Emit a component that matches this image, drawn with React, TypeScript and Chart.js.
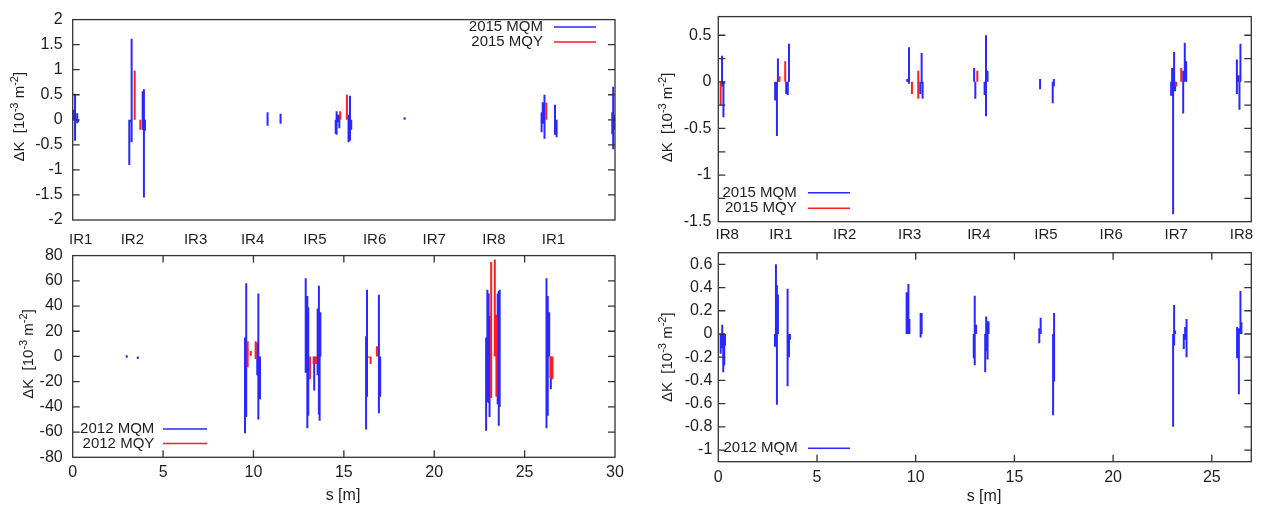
import React, { useEffect, useRef } from 'react';
import { Chart, registerables } from 'chart.js';

Chart.register(...registerables);

const FONT = '"Liberation Sans", Arial, Helvetica, sans-serif';
const BLUE = 'rgb(40,40,255)';
const RED = 'rgb(255,30,30)';
const INK = '#1e1e1e';
const FRAME = '#333333';

// ---------- top-left panel (2015) ----------
const TL_IR_POS = [0.44, 3.3, 6.8, 9.95, 13.4, 16.7, 20.0, 23.3, 26.6];
const TL_IR_LABELS = ['IR1', 'IR2', 'IR3', 'IR4', 'IR5', 'IR6', 'IR7', 'IR8', 'IR1'];
const TL_Y_TICKS = [-2, -1.5, -1, -0.5, 0, 0.5, 1, 1.5, 2];
const TL_MQM_S = [0.02, 0.13, 0.25, 0.3, 3.13, 3.2, 3.26, 3.87, 3.94, 4.0, 10.78, 11.5, 14.55, 14.6, 14.68, 14.75, 15.26, 15.34, 15.41, 18.36, 25.94, 26.0, 26.1, 26.68, 26.77, 29.85, 29.9, 29.95];
const TL_MQM_LO = [0, -0.42, -0.07, -0.05, -0.9, -0.05, -0.45, -0.2, -1.55, -0.22, -0.12, -0.08, -0.28, -0.3, -0.05, -0.17, -0.45, -0.42, -0.2, 0, -0.25, -0.08, -0.38, -0.3, -0.35, -0.29, -0.59, -0.2];
const TL_MQM_HI = [0.2, 0.52, 0.13, 0, 0, 0, 1.62, 0.57, 0.61, 0, 0.15, 0.12, 0, 0.17, 0.1, 0.1, 0.1, 0.48, 0, 0.05, 0.15, 0.35, 0.5, 0.3, 0, 0.15, 0.66, 0.1];
const TL_MQY_S = [3.43, 3.74, 14.8, 15.17, 26.2];
const TL_MQY_LO = [0, -0.2, 0, 0, 0];
const TL_MQY_HI = [0.98, 0, 0.17, 0.5, 0.34];

// ---------- bottom-left panel (2012) ----------
const BL_X_TICKS = [0, 5, 10, 15, 20, 25, 30];
const BL_Y_TICKS = [-80, -60, -40, -20, 0, 20, 40, 60, 80];
const BL_MQM_S = [0.15, 0.3, 2.99, 3.6, 9.53, 9.6, 10.21, 10.27, 10.36, 12.89, 12.98, 13.03, 13.36, 13.55, 13.62, 13.66, 13.7, 16.23, 16.28, 16.94, 17.01, 22.87, 22.94, 23.01, 23.06, 23.51, 23.57, 23.62, 26.21, 26.28, 26.36, 26.45];
const BL_MQM_LO = [-0.5, -0.3, -1, -2, -61, -48, -15, -50, -34, -13, -57, -47, -27, -15, -46, -51, 0, -58, -32, -45, -32, -59, -36, -37, -48, -38, -55, -40, -57, -47, 0, -26];
const BL_MQM_HI = [0.5, 0.3, 1, 0, 15, 58, 11, 50, 0, 62, 48, 39, 0, 38, 56, 35, 35, 16, 53, 49, 0, 15, 53, 50, 32, 50, 52, 53, 62, 48, 35, 0];
const BL_MQY_S = [9.68, 9.85, 10.12, 13.13, 13.33, 13.46, 16.39, 16.48, 16.83, 23.15, 23.35, 23.44, 26.43, 26.54];
const BL_MQY_LO = [-8.5, 0.5, -2, -18, -6, -6, -1, -6, 0, -33, 0, -32, -17, -18];
const BL_MQY_HI = [12, 4.4, 12, 0, 0, 0, 0, 0, 8, 75, 77, 33, 0, 0];

// ---------- top-right panel (2015) ----------
const TR_IR_POS = [0.45, 3.17, 6.4, 9.7, 13.2, 16.6, 19.9, 23.2, 26.5];
const TR_IR_LABELS = ['IR8', 'IR1', 'IR2', 'IR3', 'IR4', 'IR5', 'IR6', 'IR7', 'IR8'];
const TR_Y_TICKS = [-1.5, -1.25, -1, -0.75, -0.5, -0.25, 0, 0.25, 0.5];
const TR_MQM_S = [0.19, 0.26, 0.3, 2.88, 2.97, 3.02, 3.44, 3.52, 3.58, 9.57, 9.66, 10.23, 10.3, 10.35, 12.96, 13.02, 13.49, 13.56, 13.64, 16.3, 16.94, 17.0, 22.94, 22.99, 23.04, 23.09, 23.14, 23.55, 23.63, 23.7, 26.27, 26.34, 26.4, 26.45];
const TR_MQM_LO = [-0.05, -0.38, -0.02, -0.2, -0.58, 0, -0.13, -0.14, 0, 0, -0.02, -0.13, -0.02, -0.18, 0, -0.18, -0.14, -0.37, 0, -0.08, -0.23, -0.05, -0.15, 0, -1.42, -0.05, -0.1, -0.34, 0, 0, -0.13, 0, -0.3, 0];
const TR_MQM_HI = [0.28, 0, 0, 0, 0, 0.25, 0, 0, 0.41, 0.03, 0.37, 0, 0.31, 0, 0.15, 0, 0, 0.5, 0.12, 0.03, 0, 0.03, 0, 0.15, 0.13, 0.32, 0, 0.12, 0.42, 0.22, 0.24, 0.07, 0, 0.41];
const TR_MQY_S = [0.12, 3.1, 3.39, 9.81, 10.13, 13.12, 23.19, 23.45];
const TR_MQY_LO = [-0.25, 0, 0, -0.13, -0.18, 0, -0.05, 0];
const TR_MQY_HI = [0, 0.06, 0.22, 0, 0.12, 0.12, 0, 0.15];

// ---------- bottom-right panel (2012) ----------
const BR_X_TICKS = [0, 5, 10, 15, 20, 25];
const BR_Y_TICKS = [-1, -0.8, -0.6, -0.4, -0.2, 0, 0.2, 0.4, 0.6];
const BR_MQM_S = [0.12, 0.2, 0.25, 0.3, 0.34, 2.87, 2.92, 2.97, 3.02, 3.51, 3.58, 3.63, 9.54, 9.59, 9.63, 9.68, 10.25, 10.3, 12.94, 12.99, 13.06, 13.52, 13.57, 13.64, 13.69, 16.26, 16.33, 16.96, 17.01, 23.04, 23.09, 23.14, 23.58, 23.65, 23.72, 26.28, 26.37, 26.45, 26.5];
const BR_MQM_LO = [-0.17, -0.12, -0.33, -0.27, -0.1, -0.11, -0.05, -0.61, 0, -0.45, -0.2, -0.05, 0, 0, 0, 0, -0.03, 0, -0.21, -0.27, 0, -0.33, -0.15, -0.22, 0, -0.08, 0, -0.7, -0.41, -0.8, -0.1, 0, -0.13, -0.05, -0.2, -0.21, -0.52, 0, 0];
const BR_MQM_HI = [0, 0.08, 0, 0, 0, 0, 0.6, 0.42, 0.34, 0.39, 0, 0, 0.36, 0.1, 0.43, 0.13, 0.18, 0.18, 0, 0.33, 0.08, 0, 0.15, 0.11, 0.11, 0.05, 0.14, 0, 0.18, 0, 0.25, 0.03, 0, 0.06, 0.13, 0.06, 0.05, 0.37, 0.1];

type Pt = { x: number; y: number | null };
function segs(s: number[], lo: number[], hi: number[]): Pt[] {
  const out: Pt[] = [];
  s.forEach((x, i) => {
    out.push({ x, y: lo[i] }, { x, y: hi[i] }, { x, y: null });
  });
  return out;
}

function fmt(v: number): string {
  return String(parseFloat(Number(v).toFixed(2)));
}

interface LegendItem { text: string; color: string; tx: number; x0: number; x1: number; y: number }
interface PanelCfg {
  box: { left: number; top: number; width: number; height: number };
  area: { left: number; top: number; right: number; bottom: number };
  xMin: number; xMax: number; yMin: number; yMax: number;
  xTicks: number[]; xLabels: string[] | null; xFont: number; xPad: number; xMarks: boolean;
  yTicks: number[]; yLabel: (v: number) => string; yPad: number;
  series: { data: Pt[]; color: string }[];
  legend: LegendItem[];
  yTitle: { x: number; y: number };
  xTitle: { x: number; y: number } | null;
}

function drawDecor(chart: any, c: PanelCfg) {
  const ctx: CanvasRenderingContext2D = chart.ctx;
  const a = chart.chartArea;
  const ox = c.box.left;
  const oy = c.box.top;
  ctx.save();
  ctx.strokeStyle = FRAME;
  ctx.lineWidth = 1.3;
  ctx.strokeRect(a.left, a.top, a.right - a.left, a.bottom - a.top);
  const L = 7;
  ctx.beginPath();
  const ys = chart.scales.y;
  ys.ticks.forEach((t: any) => {
    const p = ys.getPixelForValue(t.value);
    if (Math.abs(p - a.top) < 1 || Math.abs(p - a.bottom) < 1) return;
    ctx.moveTo(a.left, p); ctx.lineTo(a.left + L, p);
    ctx.moveTo(a.right, p); ctx.lineTo(a.right - L, p);
  });
  if (c.xMarks) {
    const xs = chart.scales.x;
    xs.ticks.forEach((t: any) => {
      const p = xs.getPixelForValue(t.value);
      if (Math.abs(p - a.left) < 1 || Math.abs(p - a.right) < 1) return;
      ctx.moveTo(p, a.bottom); ctx.lineTo(p, a.bottom - L);
      ctx.moveTo(p, a.top); ctx.lineTo(p, a.top + L);
    });
  }
  ctx.stroke();
  ctx.font = `15px ${FONT}`;
  ctx.textAlign = 'right';
  ctx.textBaseline = 'middle';
  c.legend.forEach((l) => {
    ctx.fillStyle = INK;
    ctx.fillText(l.text, l.tx - ox, l.y - oy);
    ctx.strokeStyle = l.color;
    ctx.lineWidth = 1.5;
    ctx.beginPath();
    ctx.moveTo(l.x0 - ox, l.y - oy);
    ctx.lineTo(l.x1 - ox, l.y - oy);
    ctx.stroke();
  });
  const parts = [
    { t: 'ΔK  [10', sup: false },
    { t: '-3', sup: true },
    { t: ' m', sup: false },
    { t: '-2', sup: true },
    { t: ']', sup: false },
  ];
  const nf = `15px ${FONT}`;
  const sf = `11px ${FONT}`;
  let w = 0;
  parts.forEach((p) => { ctx.font = p.sup ? sf : nf; w += ctx.measureText(p.t).width; });
  ctx.save();
  ctx.translate(c.yTitle.x - ox, c.yTitle.y - oy);
  ctx.rotate(-Math.PI / 2);
  ctx.textAlign = 'left';
  ctx.textBaseline = 'alphabetic';
  ctx.fillStyle = INK;
  let cx = -w / 2;
  parts.forEach((p) => {
    ctx.font = p.sup ? sf : nf;
    ctx.fillText(p.t, cx, p.sup ? -6 : 0);
    cx += ctx.measureText(p.t).width;
  });
  ctx.restore();
  if (c.xTitle) {
    ctx.font = `16px ${FONT}`;
    ctx.fillStyle = INK;
    ctx.textAlign = 'center';
    ctx.textBaseline = 'middle';
    ctx.fillText('s [m]', c.xTitle.x - ox, c.xTitle.y - oy);
  }
  ctx.restore();
}

function Panel({ cfg }: { cfg: PanelCfg }) {
  const ref = useRef<HTMLCanvasElement>(null);
  useEffect(() => {
    const c = cfg;
    const yW = c.area.left - c.box.left;
    const xH = c.box.top + c.box.height - c.area.bottom;
    const plug = { id: 'gnuDecor', afterDatasetsDraw(chart: any) { drawDecor(chart, c); } };
    const chart = new Chart(ref.current as HTMLCanvasElement, {
      type: 'line',
      data: {
        datasets: c.series.map((s) => ({
          data: s.data as any,
          borderColor: s.color,
          backgroundColor: s.color,
          borderWidth: 2,
          pointRadius: 0,
          spanGaps: false,
          tension: 0,
          fill: false,
        })),
      },
      options: {
        responsive: false,
        maintainAspectRatio: false,
        animation: false,
        events: [],
        layout: {
          padding: {
            left: 0,
            top: c.area.top - c.box.top,
            right: c.box.left + c.box.width - c.area.right,
            bottom: 0,
          },
        },
        plugins: { legend: { display: false }, tooltip: { enabled: false } },
        scales: {
          x: {
            type: 'linear',
            min: c.xMin,
            max: c.xMax,
            grid: { display: false, drawTicks: false },
            border: { display: false },
            afterBuildTicks: (s: any) => { s.ticks = c.xTicks.map((v) => ({ value: v })); },
            afterFit: (s: any) => { s.height = xH; },
            ticks: {
              autoSkip: false,
              maxRotation: 0,
              padding: c.xPad,
              color: INK,
              font: { family: FONT, size: c.xFont },
              callback: (v: any, i: number) => (c.xLabels ? c.xLabels[i] : fmt(v)),
            },
          },
          y: {
            type: 'linear',
            min: c.yMin,
            max: c.yMax,
            grid: { display: false, drawTicks: false },
            border: { display: false },
            afterBuildTicks: (s: any) => { s.ticks = c.yTicks.map((v) => ({ value: v })); },
            afterFit: (s: any) => { s.width = yW; },
            ticks: {
              autoSkip: false,
              padding: c.yPad,
              color: INK,
              font: { family: FONT, size: 16 },
              callback: (v: any) => c.yLabel(Number(v)),
            },
          },
        },
      } as any,
      plugins: [plug],
    });
    return () => chart.destroy();
  }, [cfg]);
  return (
    <canvas
      ref={ref}
      width={cfg.box.width}
      height={cfg.box.height}
      style={{ position: 'absolute', left: cfg.box.left, top: cfg.box.top, width: cfg.box.width, height: cfg.box.height }}
    />
  );
}

const allLabels = (v: number) => fmt(v);
const halfLabels = (v: number) => (Math.abs(v * 2 - Math.round(v * 2)) < 1e-6 ? fmt(v) : '');

const PANELS: PanelCfg[] = [
  {
    box: { left: 0, top: 0, width: 640, height: 262 },
    area: { left: 72.7, top: 13.3, right: 615, bottom: 220 },
    xMin: 0, xMax: 30, yMin: -2, yMax: 2,
    xTicks: TL_IR_POS, xLabels: TL_IR_LABELS, xFont: 15, xPad: 11, xMarks: false,
    yTicks: TL_Y_TICKS, yLabel: allLabels, yPad: 10,
    series: [
      { data: segs(TL_MQY_S, TL_MQY_LO, TL_MQY_HI), color: RED },
      { data: segs(TL_MQM_S, TL_MQM_LO, TL_MQM_HI), color: BLUE },
    ],
    legend: [
      { text: '2015 MQM', color: BLUE, tx: 543, x0: 554, x1: 596, y: 27 },
      { text: '2015 MQY', color: RED, tx: 543, x0: 554, x1: 596, y: 42 },
    ],
    yTitle: { x: 24, y: 116.7 },
    xTitle: null,
  },
  {
    box: { left: 0, top: 236, width: 640, height: 275 },
    area: { left: 72.7, top: 250.7, right: 615, bottom: 457.3 },
    xMin: 0, xMax: 30, yMin: -80, yMax: 80,
    xTicks: BL_X_TICKS, xLabels: null, xFont: 16, xPad: 6, xMarks: true,
    yTicks: BL_Y_TICKS, yLabel: allLabels, yPad: 10,
    series: [
      { data: segs(BL_MQY_S, BL_MQY_LO, BL_MQY_HI), color: RED },
      { data: segs(BL_MQM_S, BL_MQM_LO, BL_MQM_HI), color: BLUE },
    ],
    legend: [
      { text: '2012 MQM', color: BLUE, tx: 154.3, x0: 163, x1: 207, y: 429 },
      { text: '2012 MQY', color: RED, tx: 154.3, x0: 163, x1: 207, y: 443.5 },
    ],
    yTitle: { x: 33, y: 354 },
    xTitle: { x: 343, y: 496 },
  },
  {
    box: { left: 640, top: 0, width: 626, height: 262 },
    area: { left: 718.3, top: 13.3, right: 1251.3, bottom: 221.7 },
    xMin: 0, xMax: 27, yMin: -1.5, yMax: 0.7,
    xTicks: TR_IR_POS, xLabels: TR_IR_LABELS, xFont: 15, xPad: 4.5, xMarks: false,
    yTicks: TR_Y_TICKS, yLabel: halfLabels, yPad: 7,
    series: [
      { data: segs(TR_MQY_S, TR_MQY_LO, TR_MQY_HI), color: RED },
      { data: segs(TR_MQM_S, TR_MQM_LO, TR_MQM_HI), color: BLUE },
    ],
    legend: [
      { text: '2015 MQM', color: BLUE, tx: 796.7, x0: 808, x1: 850, y: 192.7 },
      { text: '2015 MQY', color: RED, tx: 796.7, x0: 808, x1: 850, y: 208.3 },
    ],
    yTitle: { x: 672, y: 117.5 },
    xTitle: null,
  },
  {
    box: { left: 640, top: 236, width: 626, height: 275 },
    area: { left: 718.3, top: 252.7, right: 1251.3, bottom: 461.7 },
    xMin: 0, xMax: 27, yMin: -1.1, yMax: 0.7,
    xTicks: BR_X_TICKS, xLabels: null, xFont: 16, xPad: 6, xMarks: true,
    yTicks: BR_Y_TICKS, yLabel: allLabels, yPad: 6,
    series: [
      { data: segs(BR_MQM_S, BR_MQM_LO, BR_MQM_HI), color: BLUE },
    ],
    legend: [
      { text: '2012 MQM', color: BLUE, tx: 797.7, x0: 808, x1: 850, y: 448.3 },
    ],
    yTitle: { x: 672, y: 357.2 },
    xTitle: { x: 984, y: 497 },
  },
];

export default function App() {
  return (
    <div style={{ position: 'fixed', left: 0, top: 0, width: 1266, height: 511, background: '#ffffff', overflow: 'hidden' }}>
      {PANELS.map((p, i) => (
        <Panel key={i} cfg={p} />
      ))}
    </div>
  );
}
